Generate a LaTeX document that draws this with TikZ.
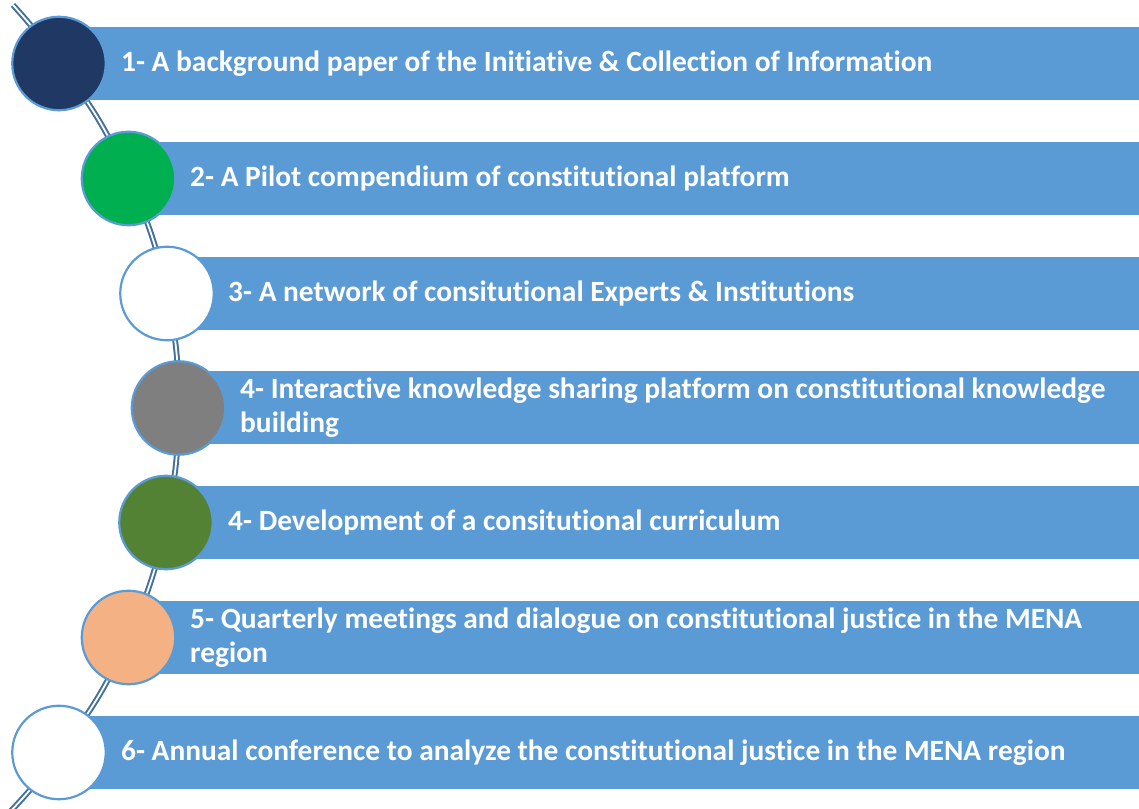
\documentclass[tikz,border=0pt]{standalone}
\usepackage{fontspec}
\setmainfont[RawFeature=-liga]{Carlito}
\pgfdeclarelayer{background}
\pgfsetlayers{background,main}
\definecolor{barblue}{RGB}{91,155,213}
\definecolor{linkblue}{RGB}{65,113,156}
\definecolor{navy}{RGB}{31,56,100}
\definecolor{brightgreen}{RGB}{0,176,80}
\definecolor{midgray}{RGB}{127,127,127}
\definecolor{olive}{RGB}{84,130,53}
\definecolor{peach}{RGB}{244,177,131}
\begin{document}
\begin{tikzpicture}[x=1pt,y=1pt,
  bar/.style={fill=barblue, draw=none, rectangle, anchor=west, inner sep=0pt, minimum height=73pt},
  dot/.style={circle, draw=barblue, line width=2.2pt, minimum size=93.5pt, inner sep=0pt},
  label/.style={anchor=west, text=white, font=\fontsize{29.4}{34}\selectfont\bfseries, align=left, inner sep=0pt},
  link/.style={draw=linkblue, line width=2pt, double=white, double distance=1.8pt}]
\useasboundingbox (0,0) rectangle (1139,808);
% bars
\node[bar, minimum width=1080pt] (b1) at (59,744.5) {};
\node[bar, minimum width=1010.5pt] (b2) at (128.5,629.5) {};
\node[bar, minimum width=972pt] (b3) at (167,514.5) {};
\node[bar, minimum width=960.5pt] (b4) at (178.5,400) {};
\node[bar, minimum width=973pt] (b5) at (166,285.5) {};
\node[bar, minimum width=1010.5pt] (b6) at (128.5,170.5) {};
\node[bar, minimum width=1080pt] (b7) at (59,55.5) {};
% circles
\node[dot, fill=navy] (c1) at (59,744.5) {};
\node[dot, fill=brightgreen] (c2) at (128.5,629.5) {};
\node[dot, fill=white] (c3) at (167,514.5) {};
\node[dot, fill=midgray] (c4) at (178.5,400) {};
\node[dot, fill=olive] (c5) at (166,285.5) {};
\node[dot, fill=peach] (c6) at (128.5,170.5) {};
\node[dot, fill=white] (c7) at (59,55.5) {};
% labels
\node[label] (t1) at (121,744.5) {1- A background paper of the Initiative \& Collection of Information};
\node[label] (t2) at (190,629.5) {2- A Pilot compendium of constitutional platform};
\node[label] (t3) at (228,514.5) {3- A network of consitutional Experts \& Institutions};
\node[label] (t4) at (240,400) {4- Interactive knowledge sharing platform on constitutional knowledge\\building};
\node[label] (t5) at (228,285.5) {4- Development of a consitutional curriculum};
\node[label] (t6) at (190,170.5) {5- Quarterly meetings and dialogue on constitutional justice in the MENA\\region};
\node[label] (t7) at (121,55.5) {6- Annual conference to analyze the constitutional justice in the MENA region};
% connectors
\coordinate (top) at (13,803);
\coordinate (bottom) at (8,-6);
\begin{pgfonlayer}{background}
\draw[link] (top) to[bend left=4] (c1.center);
\draw[link] (c1.center) to[bend left=7] (c2.center);
\draw[link] (c2.center) to[bend left=6.3] (c3.center);
\draw[link] (c3.center) to[bend left=6] (c4.center);
\draw[link] (c4.center) to[bend left=6] (c5.center);
\draw[link] (c5.center) to[bend left=6.3] (c6.center);
\draw[link] (c6.center) to[bend left=7] (c7.center);
\draw[link] (c7.center) to[bend left=4] (bottom);
\end{pgfonlayer}
\end{tikzpicture}
\end{document}
